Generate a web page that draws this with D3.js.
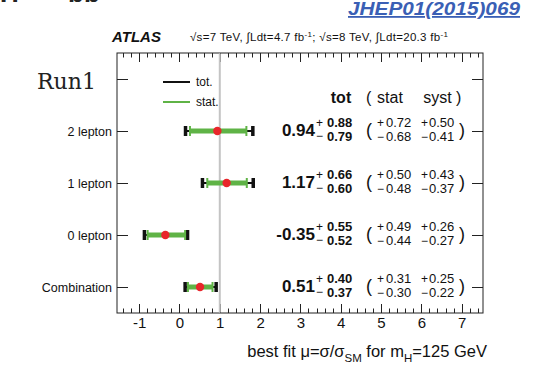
<!DOCTYPE html>
<html>
<head>
<meta charset="utf-8">
<script src="https://cdn.jsdelivr.net/npm/d3@7"></script>
<style>
  html, body { margin: 0; padding: 0; background: #fff; }
  svg { display: block; font-family: "Liberation Sans", Arial, sans-serif; }
</style>
</head>
<body>
<svg id="chart" width="551" height="370"></svg>
<script>
// Signal strength per channel, with total / stat / syst uncertainties
const categories = ["2 lepton", "1 lepton", "0 lepton", "Combination"];
const mu        = [0.94, 1.17, -0.35, 0.51];
const totUp     = [0.88, 0.66, 0.55, 0.40];
const totDown   = [0.79, 0.60, 0.52, 0.37];
const statUp    = [0.72, 0.50, 0.49, 0.31];
const statDown  = [0.68, 0.48, 0.44, 0.30];
const systUp    = [0.50, 0.43, 0.26, 0.25];
const systDown  = [0.41, 0.37, 0.27, 0.22];
const xTickValues = [-1, 0, 1, 2, 3, 4, 5, 6, 7];

const svg = d3.select("#chart");
const frame = { left: 117, right: 483, top: 53, bottom: 313 };

const x = d3.scaleLinear().domain([-1.55, 7.53]).range([frame.left, frame.right]);
const rows = ["legend"].concat(categories);
const y = d3.scalePoint().domain(rows).range([79, 287]);

// plain hyphen for negative numbers
const fmt = v => d3.format(".2f")(v).replace("\u2212", "-");
const green = "#5fb346", red = "#e8262b";

// frame
svg.append("rect")
  .attr("x", frame.left).attr("y", frame.top)
  .attr("width", frame.right - frame.left).attr("height", frame.bottom - frame.top)
  .attr("fill", "none").attr("stroke", "#222").attr("stroke-width", 1);

// minor ticks every 0.2, major on integers (bottom and top, pointing inward)
const minor = d3.range(-1.4, 7.51, 0.2).map(v => Math.round(v * 10) / 10);
const ticksG = svg.append("g").attr("stroke", "#222").attr("stroke-width", 1);
minor.forEach(v => {
  const isMajor = Math.abs(v - Math.round(v)) < 1e-6;
  const len = isMajor ? 9 : 4.5;
  const px = Math.round(x(v)) + 0.5;
  ticksG.append("line").attr("x1", px).attr("x2", px)
    .attr("y1", frame.bottom).attr("y2", frame.bottom - len);
  ticksG.append("line").attr("x1", px).attr("x2", px)
    .attr("y1", frame.top).attr("y2", frame.top + len);
});

// x tick labels through an axis generator
const xAxis = d3.axisBottom(x).tickValues(xTickValues).tickSize(0).tickPadding(0)
  .tickFormat(d => String(d));
const xg = svg.append("g").attr("transform", `translate(0,${frame.bottom})`).call(xAxis);
xg.select(".domain").remove();
xg.selectAll("text").attr("font-size", 15).attr("fill", "#111")
  .attr("font-family", "Liberation Sans, Arial, sans-serif").attr("dy", "1.0em");

// y ticks (left and right, inward)
rows.forEach(r => {
  const py = Math.round(y(r)) + 0.5;
  ticksG.append("line").attr("x1", frame.left).attr("x2", frame.left + 11).attr("y1", py).attr("y2", py);
  ticksG.append("line").attr("x1", frame.right).attr("x2", frame.right - 11).attr("y1", py).attr("y2", py);
});

// category labels
svg.append("g").selectAll("text").data(categories).join("text")
  .attr("x", frame.left - 5).attr("y", d => y(d) + 4.5)
  .attr("text-anchor", "end").attr("font-size", 12.5).attr("fill", "#111")
  .text(d => d);

// SM reference line at mu = 1
svg.append("line")
  .attr("x1", x(1)).attr("x2", x(1)).attr("y1", frame.top + 0.5).attr("y2", frame.bottom - 0.5)
  .attr("stroke", "#c4c4c4").attr("stroke-width", 2);

// error bars
const bars = svg.append("g");
categories.forEach((c, i) => {
  const cy = y(c);
  const tLo = x(mu[i] - totDown[i]), tHi = x(mu[i] + totUp[i]);
  const sLo = x(mu[i] - statDown[i]), sHi = x(mu[i] + statUp[i]);
  bars.append("line").attr("x1", tLo).attr("x2", tHi).attr("y1", cy).attr("y2", cy)
    .attr("stroke", "#111").attr("stroke-width", 2);
  [tLo, tHi].forEach(px => bars.append("line").attr("x1", px).attr("x2", px)
    .attr("y1", cy - 5).attr("y2", cy + 5).attr("stroke", "#111").attr("stroke-width", 3.5));
  bars.append("line").attr("x1", sLo).attr("x2", sHi).attr("y1", cy).attr("y2", cy)
    .attr("stroke", green).attr("stroke-width", 5);
  [sLo, sHi].forEach(px => bars.append("line").attr("x1", px).attr("x2", px)
    .attr("y1", cy - 5).attr("y2", cy + 5).attr("stroke", green).attr("stroke-width", 2));
  bars.append("circle").attr("cx", x(mu[i])).attr("cy", cy).attr("r", 4.2).attr("fill", red);
});

// legend
const ly = y("legend");
svg.append("line").attr("x1", 163).attr("x2", 190).attr("y1", ly + 3).attr("y2", ly + 3)
  .attr("stroke", "#111").attr("stroke-width", 2);
svg.append("text").attr("x", 196).attr("y", ly + 7).attr("font-size", 12).attr("fill", "#111").text("tot.");
svg.append("line").attr("x1", 163).attr("x2", 190).attr("y1", ly + 23).attr("y2", ly + 23)
  .attr("stroke", green).attr("stroke-width", 2);
svg.append("text").attr("x", 196).attr("y", ly + 27).attr("font-size", 12).attr("fill", "#111").text("stat.");

// results table header
svg.append("text").attr("x", 341).attr("y", 103).attr("text-anchor", "middle")
  .attr("font-size", 16).attr("font-weight", "bold").attr("fill", "#111").text("tot");
svg.append("text").attr("x", 366).attr("y", 103).attr("font-size", 16).attr("fill", "#111").text("(");
svg.append("text").attr("x", 390).attr("y", 103).attr("text-anchor", "middle").attr("font-size", 16).attr("fill", "#111").text("stat");
svg.append("text").attr("x", 437.5).attr("y", 103).attr("text-anchor", "middle").attr("font-size", 16).attr("fill", "#111").text("syst");
svg.append("text").attr("x", 456).attr("y", 103).attr("font-size", 16).attr("fill", "#111").text(")");

// results table rows
const table = svg.append("g").attr("fill", "#111");
categories.forEach((c, i) => {
  const cy = y(c);
  table.append("text").attr("x", 315).attr("y", cy + 4.5).attr("text-anchor", "end")
    .attr("font-size", 17).attr("font-weight", "bold").text(fmt(mu[i]));
  table.append("text").attr("x", 316).attr("y", cy - 4).attr("font-size", 12).text("+");
  table.append("text").attr("x", 316).attr("y", cy + 9).attr("font-size", 12).text("\u2212");
  table.append("text").attr("x", 327).attr("y", cy - 4).attr("font-size", 13).attr("font-weight", "bold").text(fmt(totUp[i]));
  table.append("text").attr("x", 327).attr("y", cy + 9.5).attr("font-size", 13).attr("font-weight", "bold").text(fmt(totDown[i]));
  table.append("text").attr("x", 366).attr("y", cy + 5).attr("font-size", 18).text("(");
  table.append("text").attr("x", 377).attr("y", cy - 4).attr("font-size", 12).text("+");
  table.append("text").attr("x", 377).attr("y", cy + 9.5).attr("font-size", 12).text("\u2212");
  table.append("text").attr("x", 386).attr("y", cy - 4).attr("font-size", 13).text(fmt(statUp[i]));
  table.append("text").attr("x", 386).attr("y", cy + 9.5).attr("font-size", 13).text(fmt(statDown[i]));
  table.append("text").attr("x", 421).attr("y", cy - 4).attr("font-size", 12).text("+");
  table.append("text").attr("x", 421).attr("y", cy + 9.5).attr("font-size", 12).text("\u2212");
  table.append("text").attr("x", 429).attr("y", cy - 4).attr("font-size", 13).text(fmt(systUp[i]));
  table.append("text").attr("x", 429).attr("y", cy + 9.5).attr("font-size", 13).text(fmt(systDown[i]));
  table.append("text").attr("x", 459).attr("y", cy + 5).attr("font-size", 18).text(")");
});

// x axis title
const xt = svg.append("text").attr("x", 487).attr("y", 357).attr("text-anchor", "end")
  .attr("font-size", 16.5).attr("fill", "#111");
xt.append("tspan").text("best fit \u03bc=\u03c3/\u03c3");
xt.append("tspan").attr("font-size", 11.5).attr("dy", 5).text("SM");
xt.append("tspan").attr("dy", -5).text(" for m");
xt.append("tspan").attr("font-size", 11.5).attr("dy", 5).text("H");
xt.append("tspan").attr("dy", -5).text("=125 GeV");

// experiment label and luminosity
svg.append("text").attr("x", 112).attr("y", 42).attr("font-size", 15)
  .attr("font-weight", "bold").attr("font-style", "italic").attr("fill", "#111").text("ATLAS");
const lumi = svg.append("text").attr("x", 190).attr("y", 41).attr("font-size", 11.5).attr("fill", "#111")
  .attr("textLength", 258).attr("lengthAdjust", "spacing");
lumi.append("tspan").text("\u221as=7 TeV, \u222bLdt=4.7 fb");
lumi.append("tspan").attr("font-size", 8).attr("dy", -4).text("-1");
lumi.append("tspan").attr("dy", 4).text("; \u221as=8 TeV, \u222bLdt=20.3 fb");
lumi.append("tspan").attr("font-size", 8).attr("dy", -4).text("-1");

// reference and run labels
svg.append("text").attr("x", 520).attr("y", 15).attr("text-anchor", "end")
  .attr("font-size", 18).attr("font-weight", "bold").attr("font-style", "italic")
  .attr("fill", "#3a5fb5").attr("text-decoration", "underline")
  .attr("textLength", 172).attr("lengthAdjust", "spacingAndGlyphs")
  .text("JHEP01(2015)069");
svg.append("text").attr("x", 37).attr("y", 89).attr("font-size", 22)
  .attr("font-family", "DejaVu Serif, serif").attr("fill", "#222").text("Run1");

// channel heading, mostly above the visible area
const head = svg.append("text").attr("y", 1.5).attr("font-size", 26).attr("font-weight", "bold").attr("fill", "#222");
head.append("tspan").attr("x", 0).text("H");
head.append("tspan").attr("x", 68).text("bb");
</script>
</body>
</html>
